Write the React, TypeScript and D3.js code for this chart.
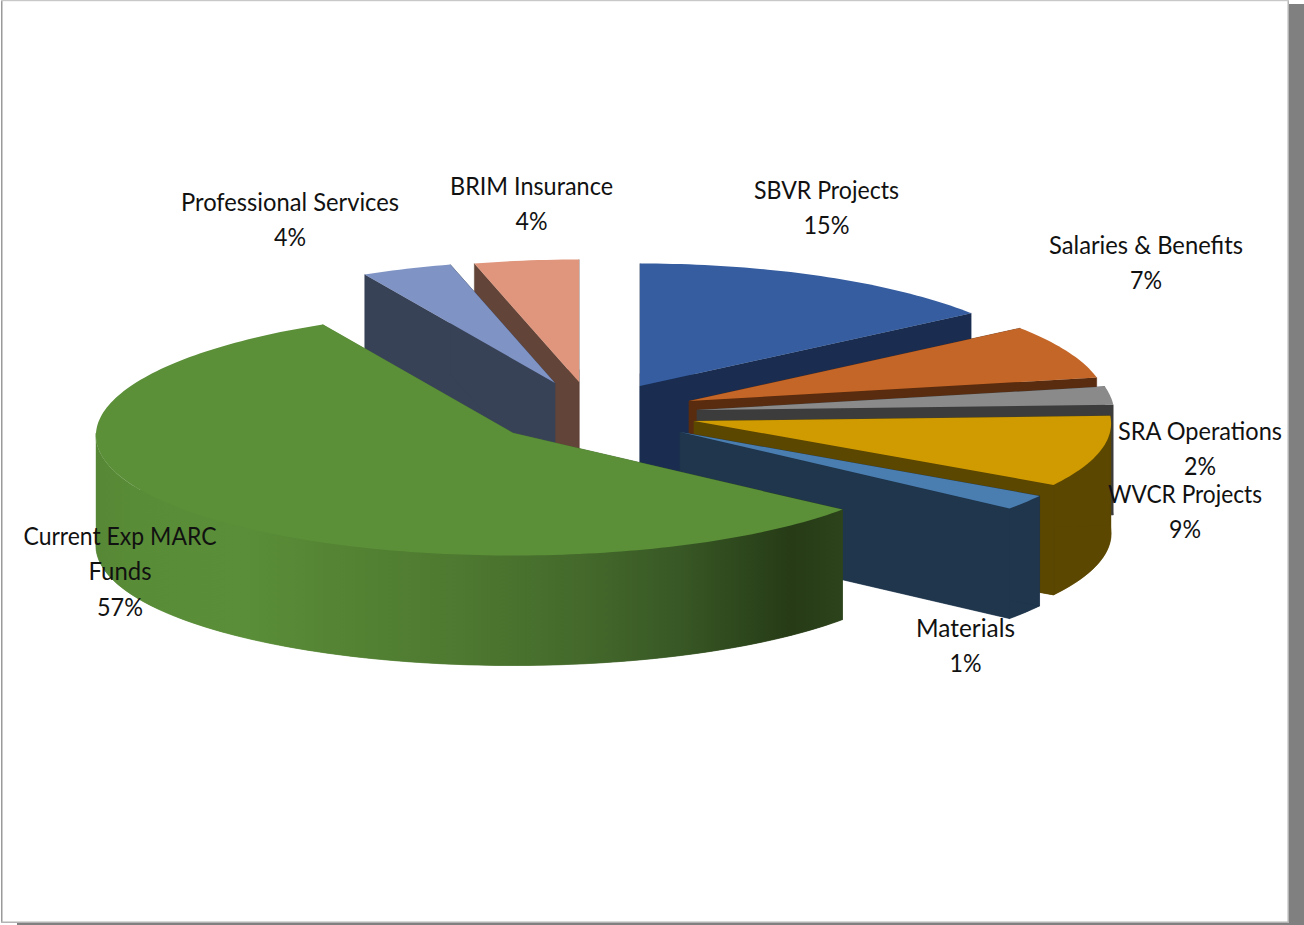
import React from "react";
import * as d3 from "d3";

// ---- data ----
const categories = ["SBVR Projects", "Salaries & Benefits", "SRA Operations", "WVCR Projects", "Materials", "Current Exp MARC Funds", "Professional Services", "BRIM Insurance"];
// slice shares as they are actually drawn (angular size in the picture)
const drawnShares = [14.86, 7.08, 2.39, 9.4, 2.02, 56.56, 3.57, 4.12];
// percentages as printed in the labels
const printedPercents = [15, 7, 2, 9, 1, 57, 4, 4];

// ---- styling / layout ----
const topColors = ["#355da0", "#c46627", "#8a8a8a", "#d09b00", "#4a7eb0", "#5b8f38", "#7f93c4", "#e0967d"];
const wallColors = ["#1a2d50", "#5a2c0f", "#3c3c3c", "#5c4700", "#1f364d", "url(#greenWall)", "#384257", "#634438"];
const apexX = [640, 689, 697, 694, 680, 513, 555, 579];
const apexY = [386, 401, 410, 421, 432, 433, 383, 382];
const paintOrder = [0, 1, 2, 3, 4, 7, 6, 5];
const RX = 417, RY = 122.5, DEPTH = 110, PERSPECTIVE = 0.02;

const labelLines = [["SBVR Projects"], ["Salaries & Benefits"], ["SRA Operations"], ["WVCR Projects"], ["Materials"], ["Current Exp MARC", "Funds"], ["Professional Services"], ["BRIM Insurance"]];
const labelCx = [826.5, 1146, 1200, 1185, 965.5, 120, 290, 531.5];
const labelBase = [199, 254, 440, 503, 637, 545, 211, 195];
const lineWidths = [[145], [194], [164], [154], [99], [193, 63], [218], [163]];
const LINE_H = 35.3;
const PCT_W_ONE = 32, PCT_W_TWO = 46;

const pie = d3.pie<number>().sort(null).startAngle(0).endAngle(2 * Math.PI);
const arcs = pie(drawnShares);
const lineGen = d3.line<[number, number]>().x((d) => d[0]).y((d) => d[1]);

function rim(i: number, a: number): [number, number] {
  const s = Math.sin(a), c = Math.cos(a);
  return [apexX[i] + RX * s * (1 - PERSPECTIVE * c), apexY[i] - RY * c];
}
function rimPoints(i: number, from: number, to: number): [number, number][] {
  const n = Math.max(4, Math.ceil((to - from) / 0.02));
  return d3.range(n + 1).map((k) => rim(i, from + ((to - from) * k) / n));
}
const shift = (pts: [number, number][], dy: number) => pts.map((p) => [p[0], p[1] + dy] as [number, number]);

function Slice({ i }: { i: number }) {
  const { startAngle, endAngle } = arcs[i];
  const r = rimPoints(i, startAngle, endAngle);
  const apex: [number, number] = [apexX[i], apexY[i]];
  const top = [apex, ...r];
  const low = shift(top, DEPTH);
  const polys: [number, number][][] = [low];
  // only the front-facing part of the rim gets an outer wall
  const from = Math.max(startAngle, Math.PI / 2);
  const to = Math.min(endAngle, (3 * Math.PI) / 2);
  if (to > from) {
    const front = rimPoints(i, from, to);
    polys.push([...front, ...shift(front, DEPTH).reverse()]);
  }
  [r[0], r[r.length - 1]].forEach((p) => {
    polys.push([apex, p, [p[0], p[1] + DEPTH], [apex[0], apex[1] + DEPTH]]);
  });
  const wall = wallColors[i];
  return (
    <g>
      {polys.map((p, k) => (
        <path key={k} d={lineGen(p) + "Z"} fill={wall} stroke={wall} strokeWidth={0.4} />
      ))}
      <path d={lineGen(top) + "Z"} fill={topColors[i]} />
    </g>
  );
}

export default function App() {
  const fontFamily = "Lato, Carlito, 'Noto Sans', sans-serif";
  return (
    <svg width={1304} height={925} viewBox="0 0 1304 925" style={{ position: "absolute", left: 0, top: 0, display: "block" }}>
      <defs>
        <linearGradient id="greenWall" gradientUnits="userSpaceOnUse" x1={96} x2={843} y1={0} y2={0}>
          <stop offset="0" stopColor="#568735" />
          <stop offset="0.05" stopColor="#598c37" />
          <stop offset="0.2" stopColor="#5a8e38" />
          <stop offset="0.31" stopColor="#558534" />
          <stop offset="0.5" stopColor="#4d7830" />
          <stop offset="0.65" stopColor="#44692b" />
          <stop offset="0.78" stopColor="#385825" />
          <stop offset="0.93" stopColor="#263b16" />
          <stop offset="1" stopColor="#2c431b" />
        </linearGradient>
      </defs>
      <rect x={0} y={0} width={1304} height={925} fill="#ffffff" />
      <rect x={1289} y={4} width={15} height={921} fill="#808080" />
      <rect x={17} y={923} width={1287} height={2} fill="#808080" />
      <rect x={1287.5} y={0} width={1.5} height={923} fill="#b4b4b4" />
      <rect x={1} y={0} width={1.5} height={923} fill="#9a9a9a" />
      <rect x={1} y={0} width={1288} height={1.2} fill="#c8c8c8" />
      <rect x={1} y={921.5} width={1288} height={1.5} fill="#b4b4b4" />

      {paintOrder.map((i) => (
        <Slice key={categories[i]} i={i} />
      ))}

      <g fontFamily={fontFamily} fontSize={25} fill="#111" textAnchor="middle">
        {categories.map((c, i) => {
          const pct = `${printedPercents[i]}%`;
          const lines = labelLines[i];
          return (
            <g key={c}>
              {lines.map((t, k) => (
                <text key={t} x={labelCx[i]} y={labelBase[i] + k * LINE_H} textLength={lineWidths[i][k]} lengthAdjust="spacingAndGlyphs">
                  {t}
                </text>
              ))}
              <text x={labelCx[i]} y={labelBase[i] + lines.length * LINE_H} textLength={pct.length === 2 ? PCT_W_ONE : PCT_W_TWO} lengthAdjust="spacingAndGlyphs">
                {pct}
              </text>
            </g>
          );
        })}
      </g>
    </svg>
  );
}
